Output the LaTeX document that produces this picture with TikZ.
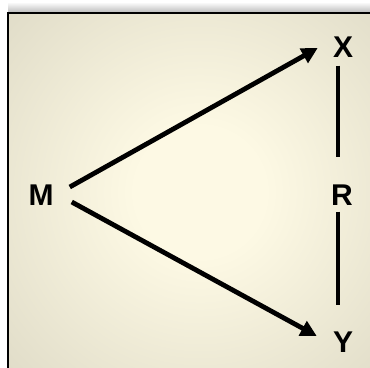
\documentclass[tikz,border=0pt]{standalone}
\usepackage{fontspec}
\setmainfont{Liberation Sans}
\usetikzlibrary{arrows.meta}
\usetikzlibrary{calc}

\definecolor{glowin}{RGB}{253,249,228}
\definecolor{glowmid}{RGB}{222,218,198}
\definecolor{glowout}{RGB}{145,142,127}
\pgfdeclareradialshading{glow}{\pgfpoint{0bp}{0bp}}{%
    color(0bp)=(glowin); color(6bp)=(glowin);
    color(26bp)=(glowmid); color(50bp)=(glowout)}

\begin{document}
\begin{tikzpicture}[
            x=0.75pt,
            y=-0.75pt,
            var/.style={
                font=\fontsize{22.5}{22.5}\selectfont\bfseries,
                inner sep=0pt
            },
            link/.style={
                draw=black,
                line width=3.6pt
            },
            cause/.style={
                link,
                -{Triangle[length=12pt,width=12pt]}
            }
        ]

            \useasboundingbox (0,0) rectangle (370,367);

            % Panel shadow and background
            \shade[top color=white, bottom color=black!28] (8,2) rectangle (372,13);
            \begin{scope}
                \clip (8,13) rectangle (372,369);
                \shade[shading=glow] (200,192) circle (270);
            \end{scope}
            \draw[black, line width=1.5pt] (8,13) rectangle (372,369);

            % Variables
            \node[var] (M) at (41,195) {M};
            \node[var] (X) at (343,47) {X};
            \node[var] (R) at (342,195) {R};
            \node[var] (Y) at (343,342) {Y};

            % Effects of M
            \draw[cause] ($(M.east)+(16,-8)$) -- ($(X.west)+(-15,1)$);
            \draw[cause] ($(M.east)+(18,7)$) -- ($(Y.west)+(-16,-6)$);

            % Links through R
            \draw[link] ($(X.south)+(-5,8)$) -- ($(R.north)+(-4,-27)$);
            \draw[link] ($(R.south)+(-4,6)$) -- ($(Y.north)+(-5,-26)$);

        \end{tikzpicture}
\end{document}
